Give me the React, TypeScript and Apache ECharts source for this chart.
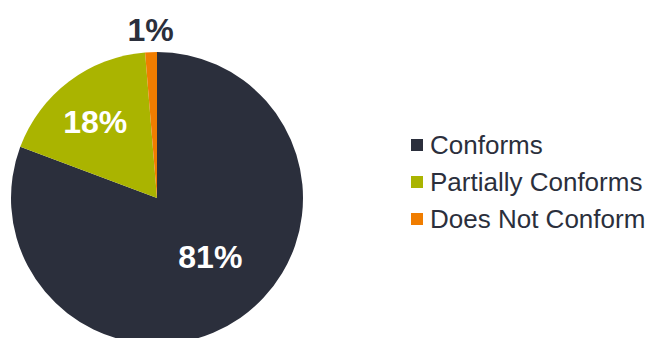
import React, { useEffect, useRef } from "react";
import * as echarts from "echarts";

const categories = ["Conforms", "Partially Conforms", "Does Not Conform"];
const values = [80.7, 18.0, 1.3];
const colors = ["#2b2f3c", "#aab400", "#f07d00"];

const FONT = "Arial";

export default function App() {
  const ref = useRef<HTMLDivElement>(null);
  useEffect(() => {
    document.body.style.margin = "0";
    const chart = echarts.init(ref.current!, null, { renderer: "svg" });
    const labelCfg = [
      { position: "inside", color: "#ffffff", offset: [10, -3] },
      { position: "inside", color: "#ffffff", offset: [-16, -15] },
      { position: "outside", color: "#2b2f3c", offset: [28, -16] },
    ];
    chart.setOption({
      animation: false,
      textStyle: { fontFamily: FONT },
      legend: {
        orient: "vertical",
        left: 406,
        top: 127,
        icon: "rect",
        itemWidth: 12,
        itemHeight: 12,
        itemGap: 11,
        textStyle: { fontFamily: FONT, fontSize: 26, color: "#2b2f3c", padding: [0, 0, 0, 2] },
        data: categories,
      },
      series: [
        {
          type: "pie",
          center: [157, 198],
          radius: 146,
          startAngle: 90,
          clockwise: true,
          avoidLabelOverlap: false,
          labelLine: { show: false, length: 6, length2: 0 },
          label: {
            fontFamily: FONT,
            fontSize: 32,
            fontWeight: "bold",
            formatter: (p: any) => Math.round(p.value) + "%",
          },
          data: categories.map((name, i) => ({
            name,
            value: values[i],
            itemStyle: { color: colors[i] },
            label: labelCfg[i],
          })),
        },
      ],
    });
    return () => chart.dispose();
  }, []);
  return <div ref={ref} style={{ width: 653, height: 338 }} />;
}
